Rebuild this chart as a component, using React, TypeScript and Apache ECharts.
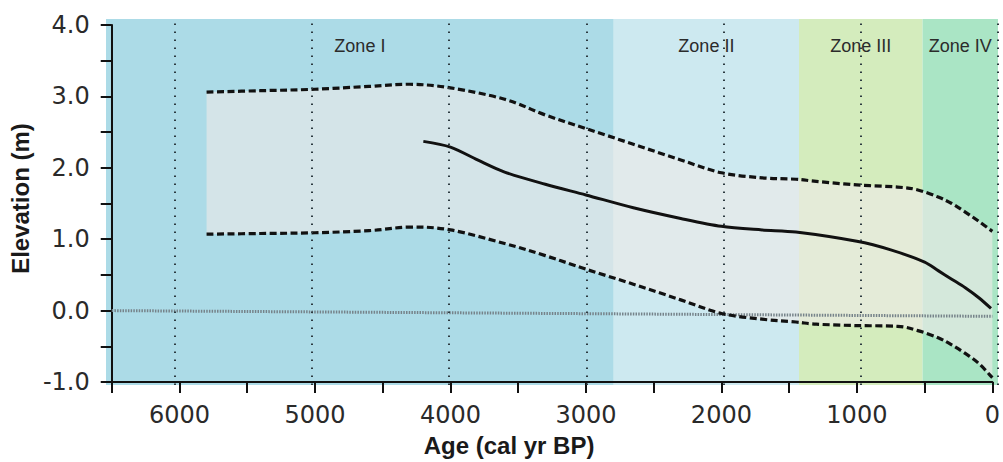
import React, { useEffect, useRef } from 'react';
import * as echarts from 'echarts';

// Age (cal yr BP) sampling for the uncertainty envelope
const envelopeAges = [5800, 5400, 5000, 4600, 4300, 4000, 3600, 3300, 3000, 2650, 2300, 2000, 1700, 1450, 1300, 1000, 700, 550, 400, 300, 200, 100, 0];
const upperBound = [3.06, 3.08, 3.1, 3.14, 3.17, 3.12, 2.96, 2.74, 2.55, 2.33, 2.11, 1.93, 1.86, 1.84, 1.81, 1.76, 1.73, 1.69, 1.59, 1.5, 1.38, 1.25, 1.11];
const lowerBound = [1.07, 1.08, 1.09, 1.12, 1.17, 1.13, 0.94, 0.77, 0.58, 0.37, 0.15, -0.04, -0.12, -0.16, -0.19, -0.21, -0.22, -0.28, -0.38, -0.48, -0.6, -0.74, -0.94];

// Central relative sea-level curve
const centralAges = [4200, 4000, 3800, 3600, 3300, 3000, 2650, 2300, 2000, 1700, 1450, 1000, 750, 500, 400, 300, 200, 100, 10];
const centralValues = [2.37, 2.29, 2.11, 1.94, 1.77, 1.62, 1.44, 1.29, 1.18, 1.13, 1.1, 0.97, 0.85, 0.68, 0.56, 0.44, 0.32, 0.18, 0.03];

// Datum line (0 m)
const datumAges = [6500, 0];
const datumValues = [0, -0.08];

// Zones
const zoneNames = ['Zone I', 'Zone II', 'Zone III', 'Zone IV'];
const zoneStart = [6500, 2800, 1450, 550];
const zoneEnd = [2800, 1450, 550, 0];
const zoneColors = ['#acdbe7', '#cde9f0', '#d4ecbd', '#aae5c5'];

// Vertical guide lines
const guideAges = [6000, 5000, 4000, 3000, 2000, 1000, 0];

const X_MIN = 0;
const X_MAX = 6500;
const Y_MIN = -1;
const Y_MAX = 4;

// Smooth path through pixel points (Catmull-Rom -> cubic Bezier)
function smoothSegments(pts: number[][], t: number): string {
  let d = '';
  for (let i = 0; i < pts.length - 1; i++) {
    const p0 = pts[i - 1] || pts[i];
    const p1 = pts[i];
    const p2 = pts[i + 1];
    const p3 = pts[i + 2] || pts[i + 1];
    const c1x = p1[0] + (p2[0] - p0[0]) * t;
    const c1y = p1[1] + (p2[1] - p0[1]) * t;
    const c2x = p2[0] - (p3[0] - p1[0]) * t;
    const c2y = p2[1] - (p3[1] - p1[1]) * t;
    d += ` C ${c1x} ${c1y} ${c2x} ${c2y} ${p2[0]} ${p2[1]}`;
  }
  return d;
}

export default function App() {
  const ref = useRef<HTMLDivElement>(null);

  useEffect(() => {
    if (!ref.current) return;
    const chart = echarts.init(ref.current, undefined, { renderer: 'svg' });

    const envelopeData = envelopeAges.map((a, i) => [a, upperBound[i], lowerBound[i]]);
    const centralData = centralAges.map((a, i) => [a, centralValues[i]]);
    const datumData = datumAges.map((a, i) => [a, datumValues[i]]);

    const T = 0.17;
    const envelopePts = (api: any) => {
      const up = envelopeAges.map((a, i) => api.coord([a, upperBound[i]]));
      const lo = envelopeAges.map((a, i) => api.coord([a, lowerBound[i]]));
      return { up, lo };
    };

    const axisColor = '#111';
    const labelFont = 'DejaVu Sans, Verdana, sans-serif';
    const titleFont = 'Liberation Sans, Arial, Helvetica, sans-serif';

    const option: any = {
      animation: false,
      backgroundColor: '#ffffff',
      grid: [
        { left: 106, right: 5, top: 25, bottom: 77, containLabel: false },
        { left: 106, right: 5, top: 19, bottom: 77, containLabel: false },
      ],
      xAxis: [
        {
          type: 'value',
          gridIndex: 0,
          min: X_MIN,
          max: X_MAX,
          interval: 500,
          inverse: true,
          name: 'Age (cal yr BP)',
          nameLocation: 'middle',
          nameGap: 51,
          nameTextStyle: {
            fontFamily: titleFont,
            fontWeight: 'bold',
            fontSize: 24,
            color: '#1a1a1a',
            padding: [0, 86, 0, 0],
          },
          axisLine: { show: true, onZero: false, lineStyle: { color: axisColor, width: 2 } },
          axisTick: { show: true, length: 11, lineStyle: { color: axisColor, width: 2 } },
          axisLabel: {
            margin: 21,
            fontSize: 24,
            fontFamily: labelFont,
            color: '#2a2a2a',
            formatter: (v: number) => (v % 1000 === 0 ? String(v) : ''),
          },
          splitLine: { show: false },
        },
        {
          type: 'value',
          gridIndex: 1,
          min: X_MIN,
          max: X_MAX,
          inverse: true,
          show: false,
        },
      ],
      yAxis: [
        {
          type: 'value',
          gridIndex: 0,
          min: Y_MIN,
          max: Y_MAX,
          interval: 0.5,
          name: 'Elevation (m)',
          nameLocation: 'middle',
          nameGap: 70,
          nameTextStyle: {
            fontFamily: titleFont,
            fontWeight: 'bold',
            fontSize: 24,
            color: '#1a1a1a',
            padding: [0, 0, 0, 10],
          },
          axisLine: { show: true, onZero: false, lineStyle: { color: axisColor, width: 2 } },
          axisTick: { show: true, length: 11, lineStyle: { color: axisColor, width: 2 } },
          axisLabel: {
            margin: 22,
            fontSize: 24,
            fontFamily: labelFont,
            color: '#2a2a2a',
            formatter: (v: number) => (Math.abs(v - Math.round(v)) < 1e-9 ? v.toFixed(1) : ''),
          },
          splitLine: { show: false },
        },
        {
          type: 'value',
          gridIndex: 1,
          min: 0,
          max: 1,
          show: false,
        },
      ],
      series: [
        {
          type: 'line',
          name: 'zones',
          xAxisIndex: 1,
          yAxisIndex: 1,
          data: [],
          silent: true,
          markArea: {
            silent: true,
            z: 0,
            label: {
              show: true,
              position: 'insideTop',
              distance: 18,
              formatter: '{b}',
              fontFamily: 'Liberation Sans Narrow, Arial Narrow, Liberation Sans, sans-serif',
              fontSize: 18,
              color: '#2b2b2b',
            },
            data: zoneNames.map((n, i) => [
              { name: n, xAxis: zoneStart[i], itemStyle: { color: zoneColors[i], opacity: 1 } },
              { xAxis: zoneEnd[i] },
            ]),
          },
        },
        {
          type: 'line',
          name: 'guides',
          xAxisIndex: 1,
          yAxisIndex: 1,
          data: [],
          silent: true,
          markLine: {
            silent: true,
            symbol: ['none', 'none'],
            z: 6,
            label: { show: false },
            lineStyle: { color: '#2c3a40', width: 2, type: [1.6, 6.4] },
            data: guideAges.map((a) => ({ xAxis: a })),
          },
        },
        {
          type: 'custom',
          name: 'band',
          data: envelopeData,
          silent: true,
          z: 2,
          encode: { x: 0, y: [1, 2] },
          renderItem: (params: any, api: any) => {
            if (params.dataIndex !== 0) return null;
            const { up, lo } = envelopePts(api);
            const loRev = lo.slice().reverse();
            const d =
              `M ${up[0][0]} ${up[0][1]}` +
              smoothSegments(up, T) +
              ` L ${loRev[0][0]} ${loRev[0][1]}` +
              smoothSegments(loRev, T) +
              ' Z';
            return {
              type: 'path',
              shape: { pathData: d },
              style: { fill: 'rgba(238,234,233,0.62)', stroke: null },
            };
          },
        },
        {
          type: 'line',
          name: 'datum',
          data: datumData,
          symbol: 'none',
          lineStyle: { color: '#76838a', width: 3, type: [1.5, 1.2] },
          silent: true,
          z: 3,
        },
        {
          type: 'custom',
          name: 'bounds',
          data: envelopeData,
          silent: true,
          z: 4,
          encode: { x: 0, y: [1, 2] },
          renderItem: (params: any, api: any) => {
            if (params.dataIndex !== 0) return null;
            const { up, lo } = envelopePts(api);
            const lineStyle = {
              fill: null,
              stroke: '#111',
              lineWidth: 3.2,
              lineDash: [7, 3.5],
            };
            return {
              type: 'group',
              children: [
                {
                  type: 'path',
                  shape: { pathData: `M ${up[0][0]} ${up[0][1]}` + smoothSegments(up, T) },
                  style: lineStyle,
                },
                {
                  type: 'path',
                  shape: { pathData: `M ${lo[0][0]} ${lo[0][1]}` + smoothSegments(lo, T) },
                  style: lineStyle,
                },
              ],
            };
          },
        },
        {
          type: 'line',
          name: 'central',
          data: centralData,
          smooth: 0.3,
          symbol: 'none',
          lineStyle: { color: '#111', width: 3 },
          z: 4,
        },
      ],
    };

    chart.setOption(option);
    return () => {
      chart.dispose();
    };
  }, []);

  return (
    <div
      ref={ref}
      style={{ position: 'fixed', left: 0, top: 0, width: 1003, height: 462 }}
    />
  );
}
